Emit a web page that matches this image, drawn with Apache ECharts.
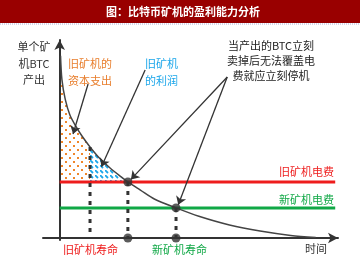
<!DOCTYPE html>
<html>
<head>
<meta charset="utf-8">
<script src="https://cdn.jsdelivr.net/npm/echarts@6/dist/echarts.min.js"></script>
<style>
html, body { margin: 0; padding: 0; background: #fff; }
#chart { width: 360px; height: 262px; }
</style>
</head>
<body>
<div id="chart"></div>
<script>
// output per miner over time (schematic units)
var curveX = [0.3, 0.8, 2, 3.7, 6, 8, 10.9, 14.5, 18, 21.7, 24.5, 29, 34, 41.8, 50, 61, 72, 83, 92];
var curveY = [92, 80, 70, 62, 56, 51.5, 46, 40, 35.5, 31.3, 28.3, 24.2, 19.7, 15.2, 11, 6.6, 3.5, 1.3, 0.3];

// electricity cost levels
var oldPower = 28.3;
var newPower = 15.2;
var powerEnd = 99;

// lifetimes (x) and the curve value there (y)
var stopPoints = [[10.9, 46], [24.5, 28.3], [41.8, 15.2]];
var dotPoints = [[24.5, 28.3], [24.5, 0], [41.8, 15.2], [41.8, 0]];

// shaded regions
var capexArea = [[0, 28.3], [0, 80], [0.8, 80], [2, 70], [3.7, 62], [6, 56], [8, 51.5], [10.9, 46], [10.9, 28.3]];
var profitArea = [[10.9, 28.3], [10.9, 46], [14.5, 40], [18, 35.5], [21.7, 31.3], [24.5, 28.3]];

// annotation arrows: [fromX, fromY, toX, toY]
var arrows = [
    [10.2, 77.8, 4.8, 52.5],
    [30.7, 84.8, 15.0, 36],
    [60.2, 81.3, 25.6, 29.6],
    [60.2, 81.3, 42.6, 16.8]
];

var titleText = '图：比特币矿机的盈利能力分析';
var font = '"Noto Sans CJK SC", "Noto Sans", sans-serif';

function makePattern(w, h, draw) {
    var c = document.createElement('canvas');
    c.width = w;
    c.height = h;
    draw(c.getContext('2d'));
    return {image: c, repeat: 'repeat'};
}

var orangeDots = makePattern(8, 8, function (ctx) {
    ctx.fillStyle = '#f0862a';
    ctx.fillRect(1, 1, 2, 2);
    ctx.fillRect(5, 5, 2, 2);
});
var blueDash = makePattern(5, 5, function (ctx) {
    ctx.strokeStyle = '#1ba6ea';
    ctx.lineWidth = 1.8;
    ctx.beginPath();
    ctx.moveTo(0, 0);
    ctx.lineTo(3, 3);
    ctx.stroke();
});

function areaSeries(points, fill) {
    return {
        type: 'custom',
        coordinateSystem: 'cartesian2d',
        data: points,
        silent: true,
        z: 1,
        renderItem: function (params, api) {
            if (params.dataIndex !== 0) return;
            var pts = points.map(function (p) { return api.coord(p); });
            return {type: 'polygon', shape: {points: pts}, style: {fill: fill}};
        }
    };
}

function hLine(y, color) {
    return {
        type: 'line',
        data: [[0, y], [powerEnd, y]],
        symbol: 'none',
        silent: true,
        z: 3,
        lineStyle: {color: color, width: 3}
    };
}

var series = [
    areaSeries(capexArea, orangeDots),
    areaSeries(profitArea, blueDash),
    hLine(oldPower, '#ee1c1c'),
    hLine(newPower, '#10a846'),
    {
        type: 'line',
        data: curveX.map(function (x, i) { return [x, curveY[i]]; }),
        smooth: 0.3,
        symbol: 'none',
        silent: true,
        z: 4,
        lineStyle: {color: '#444', width: 1.5},
        markLine: {
            silent: true,
            symbol: ['none', 'arrow'],
            symbolSize: 8,
            label: {show: false},
            lineStyle: {color: '#333', width: 1.3, type: 'solid'},
            data: arrows.map(function (a) {
                return [{coord: [a[0], a[1]]}, {coord: [a[2], a[3]]}];
            })
        }
    }
];

stopPoints.forEach(function (p) {
    series.push({
        type: 'line',
        data: [[p[0], p[1]], [p[0], 0]],
        symbol: 'none',
        silent: true,
        z: 5,
        lineStyle: {color: '#333', width: 3, type: [4, 5]}
    });
});

series.push({
    type: 'scatter',
    data: dotPoints,
    symbolSize: 9,
    silent: true,
    z: 6,
    itemStyle: {color: '#333'}
});

function txt(x, y, text, color, align, vAlign, lh) {
    return {
        type: 'text',
        x: x,
        y: y,
        style: {
            text: text,
            fill: color,
            font: '11px ' + font,
            textAlign: align || 'left',
            textVerticalAlign: vAlign || 'middle',
            lineHeight: lh || 16
        },
        z: 10
    };
}

var option = {
    animation: false,
    grid: {left: 43, right: 22, top: 40, bottom: 22},
    xAxis: {
        type: 'value',
        min: -6,
        max: 100,
        axisLine: {show: true, symbol: ['none', 'arrow'], symbolSize: [8, 10], lineStyle: {color: '#333', width: 2}},
        axisTick: {show: false},
        axisLabel: {show: false},
        splitLine: {show: false}
    },
    yAxis: {
        type: 'value',
        min: -1,
        max: 100,
        axisLine: {show: true, onZero: true, symbol: ['none', 'arrow'], symbolSize: [8, 10], lineStyle: {color: '#333', width: 2}},
        axisTick: {show: false},
        axisLabel: {show: false},
        splitLine: {show: false}
    },
    graphic: [
        {type: 'rect', shape: {x: 0, y: 0, width: 360, height: 23}, style: {fill: '#990000'}, z: 10},
        {type: 'line', shape: {x1: 0, y1: 24, x2: 360, y2: 24}, style: {stroke: '#a9a9d6', lineWidth: 1, lineDash: [1, 1]}, z: 10},
        {
            type: 'text', x: 183, y: 12, z: 11,
            style: {text: titleText, fill: '#fff', font: 'bold 11px ' + font, textAlign: 'center', textVerticalAlign: 'middle'}
        },
        txt(34, 39, '单个矿\n机BTC\n产出', '#333', 'center', 'top', 16.5),
        txt(90, 55, '旧矿机的\n资本支出', '#e87d2b', 'center', 'top', 17),
        txt(145, 55, '旧矿机\n的利润', '#1ba6ea', 'left', 'top', 17),
        txt(271, 38, '当产出的BTC立刻\n卖掉后无法覆盖电\n费就应立刻停机', '#222', 'center', 'top', 15),
        txt(334, 172, '旧矿机电费', '#ee1c1c', 'right'),
        txt(334, 200, '新矿机电费', '#10a846', 'right'),
        txt(63, 250, '旧矿机寿命', '#ee1c1c', 'left'),
        txt(152, 250, '新矿机寿命', '#10a846', 'left'),
        txt(316, 249, '时间', '#333', 'center')
    ],
    series: series
};

var myChart = echarts.init(document.getElementById('chart'));
myChart.setOption(option);
</script>
</body>
</html>
